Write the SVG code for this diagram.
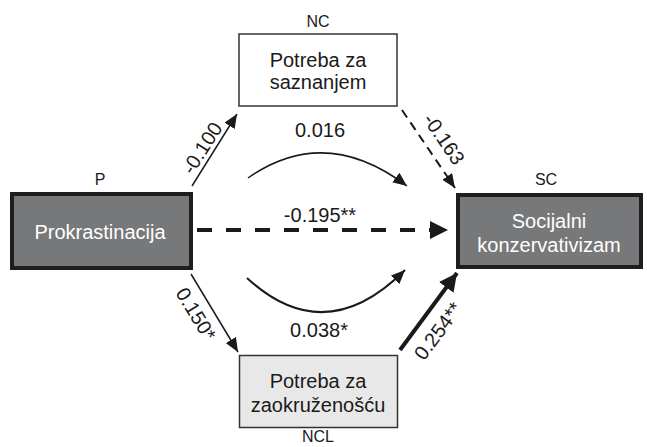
<svg xmlns="http://www.w3.org/2000/svg" width="647" height="447" viewBox="0 0 647 447">
<style>
text{font-family:"Liberation Sans",Arial,sans-serif;fill:#1a1a1a}
.lbl{font-size:16px;text-anchor:middle}
.box{font-size:20px;text-anchor:middle}
.wt{fill:#ffffff}
.coef{font-size:20px;text-anchor:middle}
.dark{fill:#77787a;stroke:#1e1e1e;stroke-width:4}
.ln{fill:none;stroke:#1a1a1a}
</style>
<defs>
<marker id="ah" markerUnits="userSpaceOnUse" markerWidth="16" markerHeight="12" refX="14" refY="6" orient="auto"><path d="M0,0 L14,6 L0,12 z" fill="#1a1a1a"/></marker>
<marker id="ahb" markerUnits="userSpaceOnUse" markerWidth="20" markerHeight="18" refX="18" refY="9" orient="auto"><path d="M0,0 L18,9 L0,18 z" fill="#1a1a1a"/></marker>
</defs>
<g id="connectors">
<path class="ln" d="M192,186 L237,114" stroke-width="1.5" marker-end="url(#ah)"/>
<path class="ln" d="M402,110 L455,188" stroke-width="2" stroke-dasharray="9,6" marker-end="url(#ah)"/>
<path class="ln" d="M248,178 Q325,124 407,186" stroke-width="1.5" marker-end="url(#ah)"/>
<path class="ln" d="M197,230 L448,230" stroke-width="4" stroke-dasharray="15,14" marker-end="url(#ahb)"/>
<path class="ln" d="M247,278 Q325,350 405,270" stroke-width="2" marker-end="url(#ah)"/>
<path class="ln" d="M191,274 L238,352" stroke-width="1.5" marker-end="url(#ah)"/>
<path class="ln" d="M400,350 L457,273" stroke-width="4" marker-end="url(#ahb)"/>
<text class="coef" transform="translate(202,148) rotate(-57.6)" dy="7">-0.100</text>
<text class="coef" transform="translate(444,139) rotate(55.8)" dy="7">-0.163</text>
<text class="coef" x="320" y="137">0.016</text>
<text class="coef" x="320" y="222">-0.195**</text>
<text class="coef" x="319" y="337">0.038*</text>
<text class="coef" transform="translate(196,314) rotate(58.6)" dy="7">0.150*</text>
<text class="coef" transform="translate(438,331) rotate(-53.4)" dy="7">0.254**</text>
</g>
<g id="P">
<text class="lbl" x="100" y="185">P</text>
<rect class="dark" x="12" y="194" width="179" height="74"/>
<text class="box wt" x="100" y="239">Prokrastinacija</text>
</g>
<g id="SC">
<text class="lbl" x="546" y="185">SC</text>
<rect class="dark" x="458" y="195" width="183" height="72"/>
<text class="box wt" x="549" y="228">Socijalni</text>
<text class="box wt" x="549" y="252">konzervativizam</text>
</g>
<g id="NC">
<text class="lbl" x="318" y="27">NC</text>
<rect x="239" y="34" width="158" height="72" fill="#ffffff" stroke="#333" stroke-width="1.5"/>
<text class="box" x="318" y="67">Potreba za</text>
<text class="box" x="318" y="89">saznanjem</text>
</g>
<g id="NCL">
<rect x="239.5" y="355.5" width="158" height="72" fill="#e8e8e8" stroke="#333" stroke-width="1.5"/>
<text class="box" x="318" y="388">Potreba za</text>
<text class="box" x="318" y="412">zaokruženošću</text>
<text class="lbl" x="318" y="442">NCL</text>
</g>
</svg>
